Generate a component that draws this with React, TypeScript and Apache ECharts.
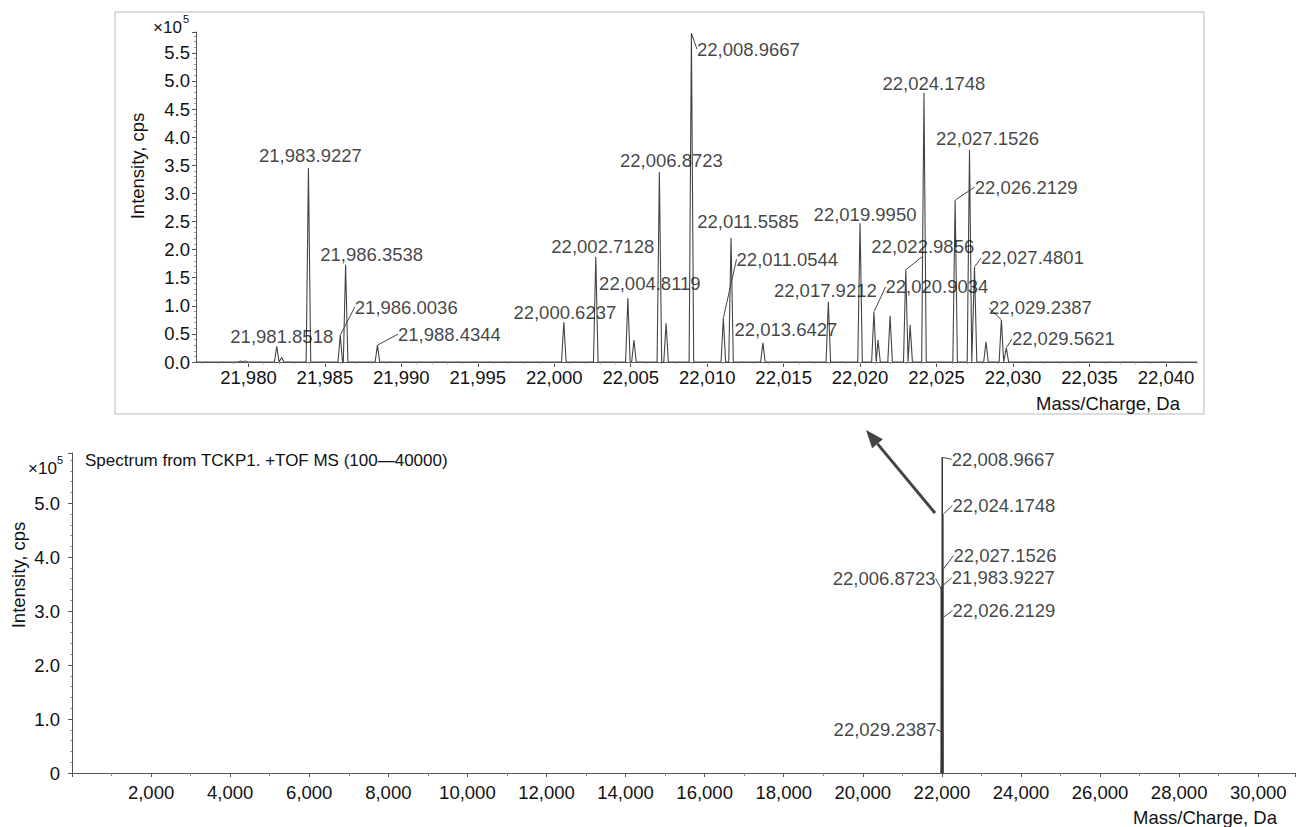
import React, { useEffect, useRef } from 'react';
import * as echarts from 'echarts';

// Peak centroids (m/z, Da) and apex intensities (x10^5 cps)
const peakMz = [
  21979.5, 21979.8, 21981.8518, 21982.17, 21983.9227, 21986.0036, 21986.3538, 21988.4344,
  22000.6237, 22002.7128, 22004.8119, 22005.21, 22006.8723, 22007.31, 22008.9667, 22011.0544,
  22011.5585, 22013.6427, 22017.9212, 22019.995, 22020.9034, 22021.17, 22021.96, 22022.9856,
  22023.27, 22024.1748, 22026.2129, 22027.1526, 22027.4801, 22028.23, 22029.2387, 22029.5621,
];
const peakIntensity = [
  0.02, 0.02, 0.28, 0.08, 3.45, 0.48, 1.73, 0.3,
  0.71, 1.87, 1.14, 0.39, 3.38, 0.69, 5.85, 0.78,
  2.21, 0.34, 1.07, 2.47, 0.89, 0.39, 0.82, 1.64,
  0.66, 4.79, 2.88, 3.77, 1.69, 0.36, 0.75, 0.25,
];

// labelled peaks in the zoomed inset
const upperLabelMz = [
  21981.8518, 21983.9227, 21986.0036, 21986.3538, 21988.4344, 22000.6237, 22002.7128, 22004.8119,
  22006.8723, 22008.9667, 22011.0544, 22011.5585, 22013.6427, 22017.9212, 22019.995, 22020.9034,
  22022.9856, 22024.1748, 22026.2129, 22027.1526, 22027.4801, 22029.2387, 22029.5621,
];
// labelled peaks in the full spectrum
const lowerLabelMz = [22008.9667, 22024.1748, 22027.1526, 21983.9227, 22006.8723, 22026.2129, 22029.2387];

// tick labels
const upperXTicks = [21980, 21985, 21990, 21995, 22000, 22005, 22010, 22015, 22020, 22025, 22030, 22035, 22040];

// label placement (pixel offsets of label centre from peak apex) — layout only
const upperLabelOffset = [
  [5, -10], [2, -13], [66, -28], [26, -10], [72, -11], [1, -10], [7, -10], [22, -14],
  [12, -11], [57, 16], [64, -59], [17, -16], [23, -13], [-3, -11], [5, -9], [63, -25],
  [17, -23], [10, -9], [71, -13], [18, -12], [58, -9], [39, -12], [57, -9],
];
const upperLabelLine = [
  false, false, true, false, true, false, false, false,
  false, true, true, false, false, false, false, true,
  true, false, true, false, true, true, true,
];
const lowerLabelOffset = [[61, 2], [61, -9], [62, -14], [62, -9], [-58, -12], [61, -7], [-58, -3]];

const FONT = 'Liberation Sans, Arial, Helvetica, sans-serif';
const TXT = '#111';
const AX = '#555';

const UP_MIN = 21976.57;
const UP_MAX = 22042.03;
const HALF_W = 0.15;

function intensityOf(mz: number) {
  return peakIntensity[peakMz.indexOf(mz)];
}
function fmtMz(v: number) {
  return v.toLocaleString('en-US', { minimumFractionDigits: 4, maximumFractionDigits: 4 });
}
function fmtInt(v: number) {
  return Math.round(v).toLocaleString('en-US');
}

function buildProfile() {
  const pts: number[][] = [[UP_MIN, 0]];
  peakMz.forEach((m, i) => {
    pts.push([m - HALF_W, 0], [m, peakIntensity[i]], [m + HALF_W, 0]);
  });
  pts.push([UP_MAX, 0]);
  return pts;
}

function labelSeries(
  mzList: number[],
  offsets: number[][],
  idx: number[],
  xAxisIndex: number,
  yAxisIndex: number,
  withLine: boolean
) {
  const offs = idx.map((i) => offsets[i]);
  return {
    type: 'scatter',
    xAxisIndex,
    yAxisIndex,
    symbol: 'circle',
    symbolSize: 1,
    itemStyle: { color: 'rgba(0,0,0,0)' },
    silent: true,
    z: 5,
    data: idx.map((i) => [mzList[i], intensityOf(mzList[i])]),
    label: {
      show: true,
      position: 'inside',
      formatter: (p: any) => fmtMz(p.value[0]),
      fontSize: 18.5,
      fontFamily: FONT,
      color: TXT,
      textBorderWidth: 0,
    },
    labelLine: { show: withLine, length2: 0, lineStyle: { color: '#444', width: 1 } },
    labelLayout: (p: any) => ({ dx: offs[p.dataIndex][0], dy: offs[p.dataIndex][1] }),
  };
}

export default function App() {
  const ref = useRef<HTMLDivElement>(null);
  useEffect(() => {
    if (!ref.current) return;
    const chart = echarts.init(ref.current, undefined, { renderer: 'svg' });
    const profile = buildProfile();
    const minorTicks: number[] = [];
    for (let v = 21977; v <= 22042; v++) minorTicks.push(v);

    const upIdxLine: number[] = [];
    const upIdxNoLine: number[] = [];
    upperLabelMz.forEach((_, i) => (upperLabelLine[i] ? upIdxLine : upIdxNoLine).push(i));
    const lowIdx = lowerLabelMz.map((_, i) => i);

    const arrowTip = [866, 430];
    const arrowTail = [935, 513];
    const dxA = arrowTip[0] - arrowTail[0];
    const dyA = arrowTip[1] - arrowTail[1];
    const lenA = Math.sqrt(dxA * dxA + dyA * dyA);
    const ux = dxA / lenA;
    const uy = dyA / lenA;
    const bx = arrowTip[0] - 18 * ux;
    const by = arrowTip[1] - 18 * uy;
    const px = -uy * 7;
    const py = ux * 7;

    const option: any = {
      animation: false,
      backgroundColor: '#fff',
      textStyle: { fontFamily: FONT },
      grid: [
        { left: 196, right: 99, top: 32, bottom: 465, containLabel: false, outerBoundsMode: 'none' },
        { left: 72, right: 1, top: 453, bottom: 54, containLabel: false, outerBoundsMode: 'none' },
      ],
      xAxis: [
        {
          type: 'value',
          gridIndex: 0,
          position: 'bottom',
          min: UP_MIN,
          max: UP_MAX,
          axisLine: { show: true, onZero: false, lineStyle: { color: AX, width: 1 } },
          axisTick: { show: true, length: 5, customValues: upperXTicks, lineStyle: { color: AX } },
          axisLabel: {
            customValues: upperXTicks,
            formatter: (v: number) => fmtInt(v),
            fontSize: 18.5,
            fontFamily: FONT,
            color: TXT,
            margin: 6,
          },
          splitLine: { show: false },
        },
        {
          type: 'value',
          gridIndex: 0,
          position: 'bottom',
          min: UP_MIN,
          max: UP_MAX,
          axisLine: { show: false, onZero: false },
          axisTick: { show: true, length: 2, customValues: minorTicks, lineStyle: { color: '#999' } },
          axisLabel: { show: false },
          splitLine: { show: false },
        },
        {
          type: 'value',
          gridIndex: 1,
          position: 'bottom',
          min: 0,
          max: 30930,
          interval: 2000,
          axisLine: { show: true, onZero: false, lineStyle: { color: AX, width: 1 } },
          axisTick: { show: true, length: 4, lineStyle: { color: AX } },
          minorTick: { show: true, splitNumber: 2, length: 3, lineStyle: { color: '#888' } },
          axisLabel: {
            formatter: (v: number) => fmtInt(v),
            showMinLabel: false,
            showMaxLabel: false,
            fontSize: 18.5,
            fontFamily: FONT,
            color: TXT,
            margin: 10,
          },
          splitLine: { show: false },
        },
      ],
      yAxis: [
        {
          type: 'value',
          gridIndex: 0,
          min: 0,
          max: 5.87,
          interval: 0.5,
          axisLine: { show: true, lineStyle: { color: AX, width: 1 } },
          axisTick: { show: true, length: 4, lineStyle: { color: AX } },
          minorTick: { show: true, splitNumber: 5, length: 2, lineStyle: { color: '#999' } },
          axisLabel: {
            formatter: (v: number) => v.toFixed(1),
            showMaxLabel: false,
            fontSize: 18.5,
            fontFamily: FONT,
            color: TXT,
            margin: 6,
          },
          splitLine: { show: false },
        },
        {
          type: 'value',
          gridIndex: 1,
          min: 0,
          max: 5.93,
          interval: 1,
          axisLine: { show: true, lineStyle: { color: AX, width: 1 } },
          axisTick: { show: true, length: 4, lineStyle: { color: AX } },
          minorTick: { show: true, splitNumber: 5, length: 2, lineStyle: { color: '#999' } },
          axisLabel: {
            formatter: (v: number) => (v === 0 ? '0' : v.toFixed(1)),
            showMaxLabel: false,
            fontSize: 18.5,
            fontFamily: FONT,
            color: TXT,
            margin: 12,
          },
          splitLine: { show: false },
        },
      ],
      series: [
        {
          type: 'line',
          xAxisIndex: 0,
          yAxisIndex: 0,
          data: profile,
          symbol: 'none',
          silent: true,
          lineStyle: { color: '#444', width: 1.1 },
        },
        {
          type: 'line',
          xAxisIndex: 2,
          yAxisIndex: 1,
          data: profile,
          symbol: 'none',
          silent: true,
          lineStyle: { color: '#333', width: 1.5 },
        },
        labelSeries(upperLabelMz, upperLabelOffset, upIdxNoLine, 0, 0, false),
        labelSeries(upperLabelMz, upperLabelOffset, upIdxLine, 0, 0, true),
        labelSeries(lowerLabelMz, lowerLabelOffset, lowIdx, 2, 1, true),
      ],
      graphic: [
        {
          type: 'rect',
          shape: { x: 115, y: 12, width: 1089, height: 402 },
          style: { fill: 'none', stroke: '#bbb', lineWidth: 1 },
          z: -1,
          silent: true,
        },
        { type: 'text', x: 153, y: 27, style: { text: '×10', fontSize: 17, fontFamily: FONT, fill: TXT, verticalAlign: 'middle' } },
        { type: 'text', x: 183, y: 19, style: { text: '5', fontSize: 11, fontFamily: FONT, fill: TXT, verticalAlign: 'middle' } },
        { type: 'text', x: 28, y: 468, style: { text: '×10', fontSize: 17, fontFamily: FONT, fill: TXT, verticalAlign: 'middle' } },
        { type: 'text', x: 57, y: 460, style: { text: '5', fontSize: 11, fontFamily: FONT, fill: TXT, verticalAlign: 'middle' } },
        {
          type: 'text',
          x: 137,
          y: 166,
          rotation: Math.PI / 2,
          style: { text: 'Intensity, cps', fontSize: 18.5, fontFamily: FONT, fill: TXT, align: 'center', verticalAlign: 'middle' },
        },
        {
          type: 'text',
          x: 18,
          y: 575,
          rotation: Math.PI / 2,
          style: { text: 'Intensity, cps', fontSize: 18.5, fontFamily: FONT, fill: TXT, align: 'center', verticalAlign: 'middle' },
        },
        {
          type: 'text',
          x: 1180,
          y: 403,
          style: { text: 'Mass/Charge, Da', fontSize: 18.5, fontFamily: FONT, fill: TXT, align: 'right', verticalAlign: 'middle' },
        },
        {
          type: 'text',
          x: 1277,
          y: 817,
          style: { text: 'Mass/Charge, Da', fontSize: 18.5, fontFamily: FONT, fill: TXT, align: 'right', verticalAlign: 'middle' },
        },
        {
          type: 'text',
          x: 85,
          y: 460,
          style: {
            text: 'Spectrum from TCKP1. +TOF MS (100\u201440000)',
            fontSize: 17,
            fontFamily: FONT,
            fill: TXT,
            verticalAlign: 'middle',
          },
        },
        {
          type: 'line',
          shape: { x1: arrowTail[0], y1: arrowTail[1], x2: bx, y2: by },
          style: { stroke: '#444', lineWidth: 3 },
          silent: true,
        },
        {
          type: 'polygon',
          shape: {
            points: [
              [arrowTip[0], arrowTip[1]],
              [bx + px, by + py],
              [bx - px, by - py],
            ],
          },
          style: { fill: '#444' },
          silent: true,
        },
      ],
    };
    chart.setOption(option);
    return () => chart.dispose();
  }, []);
  return (
    <div
      ref={ref}
      style={{ position: 'absolute', left: 0, top: 0, width: 1296, height: 827, background: '#fff' }}
    />
  );
}
